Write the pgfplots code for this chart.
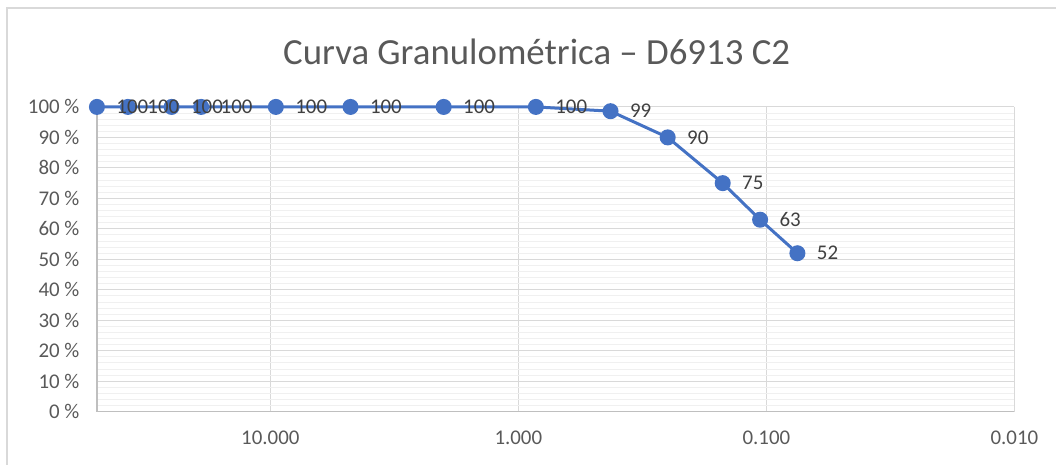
\documentclass[border=0pt]{standalone}
\usepackage{pgfplots}
\usepackage{pgfplotstable}
\pgfplotsset{compat=1.18}
\usepackage{fontspec}
\setmainfont{Carlito}
\definecolor{serie}{HTML}{4472C4}
\definecolor{majg}{HTML}{D9D9D9}
\definecolor{ming}{HTML}{F0F0F0}
\definecolor{txt}{HTML}{595959}
\definecolor{axl}{HTML}{BFBFBF}
\pgfplotstableread{
x y lab
50 100 100
37.5 100 100
25 100 100
19 100 100
9.5 100 100
4.75 100 100
2 100 100
0.85 100 100
0.425 98.6 99
0.25 90 90
0.15 75 75
0.106 63 63
0.075 52 52
}\datatab
\begin{document}
\begin{tikzpicture}[x=1bp,y=1bp]
\path (0,0) rectangle (1057,465);
\draw[majg, line width=1.2bp] (7,0) -- (7,457) -- (1057,457);
\node[txt, font=\fontsize{37}{41}\selectfont] at (537,413) {Curva Granulométrica – D6913 C2};
\begin{axis}[
  at={(97bp,53bp)}, anchor=south west,
  width=918bp, height=305bp, scale only axis,
  xmode=log, x dir=reverse, xmin=0.01, xmax=50,
  ymin=0, ymax=100,
  xtick={10,1,0.1,0.01}, xticklabels={10.000,1.000,0.100,0.010},
  ytick={0,10,...,100}, minor y tick num=4,
  yticklabel={\pgfmathprintnumber{\tick}\ \%},
  /pgf/number format/assume math mode=true,
  major tick length=0, minor tick length=0,
  grid=both,
  major grid style={majg, line width=1bp},
  minor grid style={ming, line width=1bp},
  axis x line*=bottom, axis y line*=left,
  axis line style={axl, line width=1.2bp, -},
  tick label style={txt, font=\fontsize{21}{24}\selectfont},
  xticklabel style={yshift=-16bp},
  yticklabel style={xshift=-14bp},
  clip=false,
]
\addplot[serie, line width=3bp, mark=*, mark size=6.5bp, mark options={fill=serie, draw=serie}]
  table {\datatab};
\addplot[draw=none, mark=none, nodes near coords, point meta=explicit symbolic,
  every node near coord/.style={anchor=west, xshift=16bp, text=black!75, font=\fontsize{21}{24}\selectfont}]
  table[meta=lab] {\datatab};
\end{axis}
\end{tikzpicture}
\end{document}
